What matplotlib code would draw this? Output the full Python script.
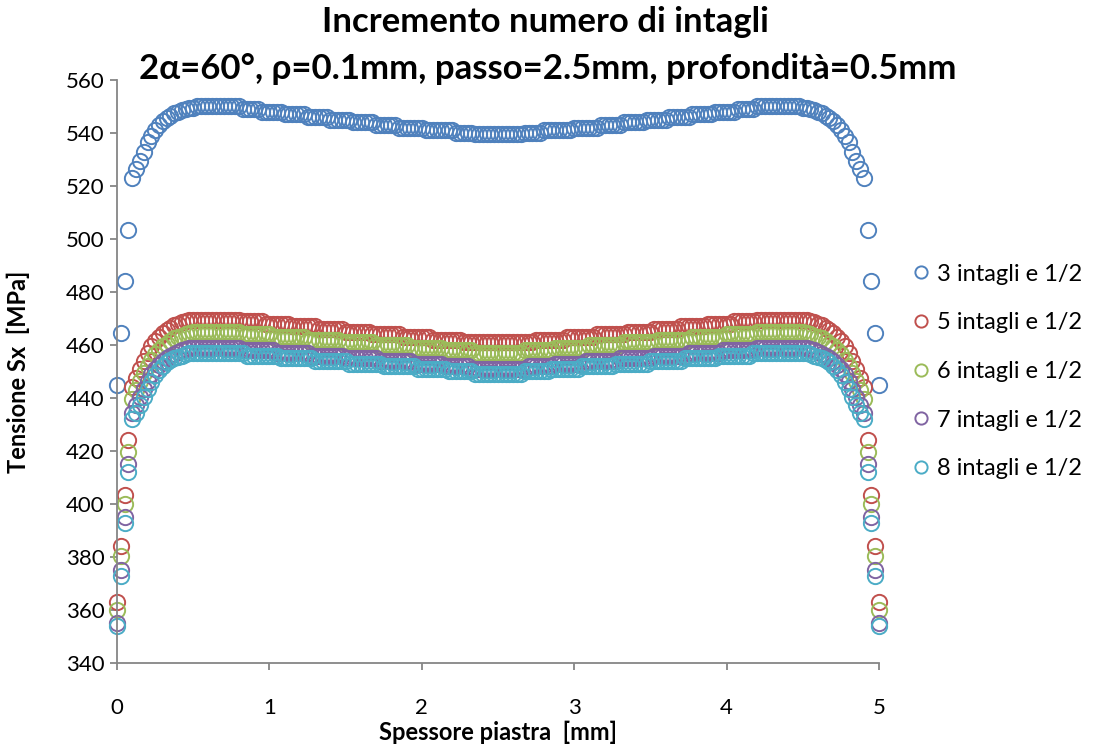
import numpy as np
import matplotlib
matplotlib.use("Agg")
import matplotlib.pyplot as plt

# Stress Sx [MPa] across the plate thickness, one node every 0.025 mm (0 .. 5 mm)
sx_3 = [
    445, 464.5, 484, 503.5, 523,
    526.5, 529.5, 533, 536.5, 539, 541, 543, 544.5, 545.5, 546.5, 547.5, 548, 548.5, 549, 549.5, 549.5,
    550, 550, 550, 550, 550, 550, 550, 550, 550, 550, 550, 550,
    549, 549, 549, 549, 549,
    548, 548, 548, 548, 548, 548,
    547, 547, 547, 547, 547, 547,
    546, 546, 546, 546, 546, 546,
    545, 545, 545, 545, 545, 545,
    544, 544, 544, 544, 544, 544,
    543, 543, 543, 543, 543, 543,
    542, 542, 542, 542, 542, 542, 542,
    541, 541, 541, 541, 541, 541, 541, 541,
    540, 540, 540, 540, 540,
    539.5, 539.5, 539.5, 539.5, 539.5, 539.5, 539.5,
    539.5, 539.5, 539.5, 539.5, 539.5, 539.5,
    540, 540, 540, 540, 540,
    541, 541, 541, 541, 541, 541, 541, 541,
    542, 542, 542, 542, 542, 542, 542,
    543, 543, 543, 543, 543, 543,
    544, 544, 544, 544, 544, 544,
    545, 545, 545, 545, 545, 545,
    546, 546, 546, 546, 546, 546,
    547, 547, 547, 547, 547, 547,
    548, 548, 548, 548, 548, 548,
    549, 549, 549, 549, 549,
    550, 550, 550, 550, 550, 550, 550, 550, 550, 550, 550, 550,
    549.5, 549.5, 549, 548.5, 548, 547.5, 546.5, 545.5, 544.5, 543, 541, 539, 536.5, 533, 529.5, 526.5,
    523, 503.5, 484, 464.5, 445,
]

sx_5 = [
    363, 384, 403.5, 424,
    444, 447.5, 451, 454, 457, 459.5, 461.5, 463, 464.5, 465.5, 466.5, 467.5, 468, 468.5, 469, 469.5,
    469.5, 469.5, 469.5, 469.5, 469.5, 469.5, 469.5, 469.5, 469.5, 469.5, 469.5, 469.5, 469.5,
    469, 469, 469, 469, 469, 469,
    468, 468, 468, 468, 468, 468, 468,
    467, 467, 467, 467, 467, 467, 467,
    466, 466, 466, 466, 466, 466, 466,
    465, 465, 465, 465, 465, 465, 465,
    464, 464, 464, 464, 464, 464, 464, 464,
    463, 463, 463, 463, 463, 463, 463, 463,
    462, 462, 462, 462, 462, 462, 462, 462,
    461, 461, 461, 461, 461, 461, 461, 461, 461, 461,
    461, 461, 461, 461, 461, 461, 461, 461, 461,
    462, 462, 462, 462, 462, 462, 462, 462,
    463, 463, 463, 463, 463, 463, 463, 463,
    464, 464, 464, 464, 464, 464, 464, 464,
    465, 465, 465, 465, 465, 465, 465,
    466, 466, 466, 466, 466, 466, 466,
    467, 467, 467, 467, 467, 467, 467,
    468, 468, 468, 468, 468, 468, 468,
    469, 469, 469, 469, 469, 469,
    469.5, 469.5, 469.5, 469.5, 469.5, 469.5, 469.5, 469.5, 469.5, 469.5, 469.5, 469.5, 469.5,
    469.5, 469, 468.5, 468, 467.5, 466.5, 465.5, 464.5, 463, 461.5, 459.5, 457, 454, 451, 447.5, 444,
    424, 403.5, 384, 363,
]

sx_6 = [
    360, 380.5, 400, 419.5,
    439.5, 443, 446.5, 449.5, 452, 454.5, 456.5, 458, 459.5, 460.5, 461.5, 462.5, 463, 463.5, 464, 464.5,
    465, 465, 465, 465, 465, 465, 465, 465, 465, 465, 465, 465, 465,
    464, 464, 464, 464, 464, 464, 464, 464,
    463, 463, 463, 463, 463, 463, 463, 463, 463,
    462, 462, 462, 462, 462, 462, 462, 462, 462,
    461, 461, 461, 461, 461, 461, 461, 461, 461,
    460, 460, 460, 460, 460, 460, 460, 460, 460,
    459, 459, 459, 459, 459, 459, 459, 459, 459,
    458, 458, 458, 458, 458, 458, 458, 458,
    457, 457, 457, 457, 457, 457, 457,
    457, 457, 457, 457, 457, 457,
    458, 458, 458, 458, 458, 458, 458, 458,
    459, 459, 459, 459, 459, 459, 459, 459, 459,
    460, 460, 460, 460, 460, 460, 460, 460, 460,
    461, 461, 461, 461, 461, 461, 461, 461, 461,
    462, 462, 462, 462, 462, 462, 462, 462, 462,
    463, 463, 463, 463, 463, 463, 463, 463, 463,
    464, 464, 464, 464, 464, 464, 464, 464,
    465, 465, 465, 465, 465, 465, 465, 465, 465, 465, 465, 465, 465,
    464.5, 464, 463.5, 463, 462.5, 461.5, 460.5, 459.5, 458, 456.5, 454.5, 452, 449.5, 446.5, 443, 439.5,
    419.5, 400, 380.5, 360,
]

sx_7 = [
    355, 375, 395, 415,
    434.5, 437.5, 440.5, 443.5, 446.5, 449, 451, 452.5, 454, 455, 456, 456.5, 457.5, 458, 458.5, 459,
    459, 459, 459, 459, 459, 459, 459, 459, 459, 459, 459, 459, 459,
    458, 458, 458, 458, 458, 458, 458, 458, 458,
    457, 457, 457, 457, 457, 457, 457, 457, 457,
    456, 456, 456, 456, 456, 456, 456, 456, 456,
    455, 455, 455, 455, 455, 455, 455, 455, 455,
    454, 454, 454, 454, 454, 454, 454, 454, 454,
    453, 453, 453, 453, 453, 453, 453, 453,
    452, 452, 452, 452, 452, 452, 452,
    451, 451, 451, 451, 451, 451, 451, 451,
    451, 451, 451, 451, 451, 451, 451,
    452, 452, 452, 452, 452, 452, 452,
    453, 453, 453, 453, 453, 453, 453, 453,
    454, 454, 454, 454, 454, 454, 454, 454, 454,
    455, 455, 455, 455, 455, 455, 455, 455, 455,
    456, 456, 456, 456, 456, 456, 456, 456, 456,
    457, 457, 457, 457, 457, 457, 457, 457, 457,
    458, 458, 458, 458, 458, 458, 458, 458, 458,
    459, 459, 459, 459, 459, 459, 459, 459, 459, 459, 459, 459, 459,
    459, 458.5, 458, 457.5, 456.5, 456, 455, 454, 452.5, 451, 449, 446.5, 443.5, 440.5, 437.5, 434.5,
    415, 395, 375, 355,
]

sx_8 = [
    354, 373, 393, 412,
    432, 434.5, 437.5, 440.5, 443.5, 446, 448.5, 450.5, 452, 453.5, 454.5, 455, 455.5, 456, 456.5, 457,
    457, 457, 457, 457, 457, 457, 457, 457, 457, 457, 457, 457, 457, 457,
    456, 456, 456, 456, 456, 456, 456, 456, 456,
    455, 455, 455, 455, 455, 455, 455, 455, 455,
    454, 454, 454, 454, 454, 454, 454, 454, 454,
    453, 453, 453, 453, 453, 453, 453, 453, 453,
    452, 452, 452, 452, 452, 452, 452, 452, 452,
    451, 451, 451, 451, 451, 451, 451, 451,
    450, 450, 450, 450, 450, 450, 450,
    449, 449, 449, 449, 449, 449, 449,
    449, 449, 449, 449, 449, 449,
    450, 450, 450, 450, 450, 450, 450,
    451, 451, 451, 451, 451, 451, 451, 451,
    452, 452, 452, 452, 452, 452, 452, 452, 452,
    453, 453, 453, 453, 453, 453, 453, 453, 453,
    454, 454, 454, 454, 454, 454, 454, 454, 454,
    455, 455, 455, 455, 455, 455, 455, 455, 455,
    456, 456, 456, 456, 456, 456, 456, 456, 456,
    457, 457, 457, 457, 457, 457, 457, 457, 457, 457, 457, 457, 457, 457,
    457, 456.5, 456, 455.5, 455, 454.5, 453.5, 452, 450.5, 448.5, 446, 443.5, 440.5, 437.5, 434.5, 432,
    412, 393, 373, 354,
]

series_labels = ["3 intagli e 1/2", "5 intagli e 1/2", "6 intagli e 1/2",
                 "7 intagli e 1/2", "8 intagli e 1/2"]
series_values = [sx_3, sx_5, sx_6, sx_7, sx_8]
series_colors = ["#4F81BD", "#C0504D", "#9BBB59", "#8064A2", "#4BACC6"]

x_ticks = [0, 1, 2, 3, 4, 5]
y_ticks = [340, 360, 380, 400, 420, 440, 460, 480, 500, 520, 540, 560]

plt.rcParams["font.family"] = ["Lato", "DejaVu Sans"]

fig = plt.figure(figsize=(10.97, 7.46), dpi=100)
ax = fig.add_axes([0.1067, 0.1113, 0.6946, 0.7815])

for vals, lab, col in zip(series_values, series_labels, series_colors):
    xs = np.linspace(0.0, 5.0, len(vals))
    ax.plot(xs, vals, linestyle="none", marker="o", markersize=11,
            markerfacecolor="none", markeredgecolor=col, markeredgewidth=1.4,
            label=lab, clip_on=False)

ax.set_xlim(0, 5)
ax.set_ylim(340, 560)
ax.set_xticks(x_ticks)
ax.set_yticks(y_ticks)
ax.set_xticklabels([str(t) for t in x_ticks])
ax.set_yticklabels([str(t) for t in y_ticks])

for side in ("top", "right"):
    ax.spines[side].set_visible(False)
for side in ("left", "bottom"):
    ax.spines[side].set_color("#868686")
    ax.spines[side].set_linewidth(1.3)

ax.tick_params(axis="both", direction="out", color="#868686", width=1.3,
               length=5, labelsize=16, labelcolor="black")
ax.tick_params(axis="x", pad=20)
ax.tick_params(axis="y", pad=4)

ax.set_xlabel("Spessore piastra  [mm]", fontsize=17, fontweight="bold", labelpad=2)
ax.set_ylabel("Tensione Sx  [MPa]", fontsize=17, fontweight="bold", labelpad=26)

fig.text(0.497, 0.971, "Incremento numero di intagli", ha="center", va="center",
         fontsize=25, fontweight="bold")
fig.text(0.499, 0.907, "2\u03b1=60\u00b0, \u03c1=0.1mm, passo=2.5mm, profondit\u00e0=0.5mm",
         ha="center", va="center", fontsize=25, fontweight="bold")

ax.legend(loc="center left", bbox_to_anchor=(1.013, 0.5), frameon=False,
          fontsize=17, markerscale=0.8, handletextpad=0.05,
          labelspacing=1.17, handlelength=1.3, borderaxespad=0.3)

fig.savefig("out.png", dpi=100)
